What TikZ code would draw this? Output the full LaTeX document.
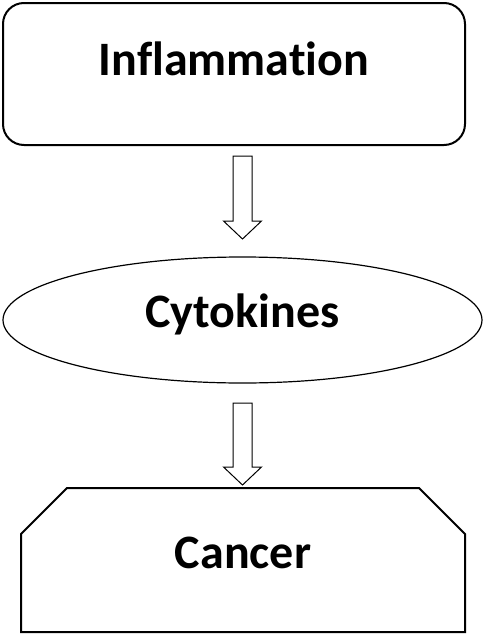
\documentclass[tikz,border=0pt]{standalone}
\usepackage{fontspec}
\setmainfont{Carlito}[Ligatures={NoCommon,NoContextual}]
\usetikzlibrary{shapes.geometric,shapes.misc,calc}
\tikzset{
  lbl/.style={font=\fontsize{48}{57}\selectfont\bfseries, inner sep=0pt, outer sep=0pt, align=center},
  boxA/.style={lbl, draw, line width=2pt, rounded corners=21pt, minimum width=462pt, minimum height=142pt},
  ellA/.style={lbl, draw, ellipse, line width=1.2pt, minimum width=479pt, minimum height=126pt},
  boxC/.style={lbl, draw, line width=2pt, chamfered rectangle, chamfered rectangle corners={north west,north east},
     chamfered rectangle xsep=24pt, chamfered rectangle ysep=24pt, minimum width=444pt, minimum height=144pt},
  blk/.style={draw, line width=1pt, fill=white, line join=miter}
}
\newcommand\blockarr[2]{%
  \path[blk] let \p1=(#1), \p2=(#2) in
    (\x1-9.5pt,\y1) -- (\x1+9.5pt,\y1) -- (\x1+9.5pt,\y2+18pt) -- (\x1+19pt,\y2+18pt)
    -- (\x2,\y2) -- (\x1-19pt,\y2+18pt) -- (\x1-9.5pt,\y2+18pt) -- cycle;}
\begin{document}
\begin{tikzpicture}[x=1pt,y=-1pt]
\useasboundingbox (0,0) rectangle (488,640);
\node[boxA, text height=30pt, text depth=28pt] (infl) at (234,74) {Inflammation};
\node[ellA, text height=30pt, text depth=16pt] (cyto) at (242.5,320) {Cytokines};
\node[boxC, text height=30pt, text depth=14pt] (canc) at (243,560) {Cancer};
\coordinate (a1s) at (242.5,156);
\coordinate (a1e) at (242.5,239);
\coordinate (a2s) at (242.5,403);
\coordinate (a2e) at (242.5,485);
\blockarr{a1s}{a1e}
\blockarr{a2s}{a2e}
\end{tikzpicture}
\end{document}
